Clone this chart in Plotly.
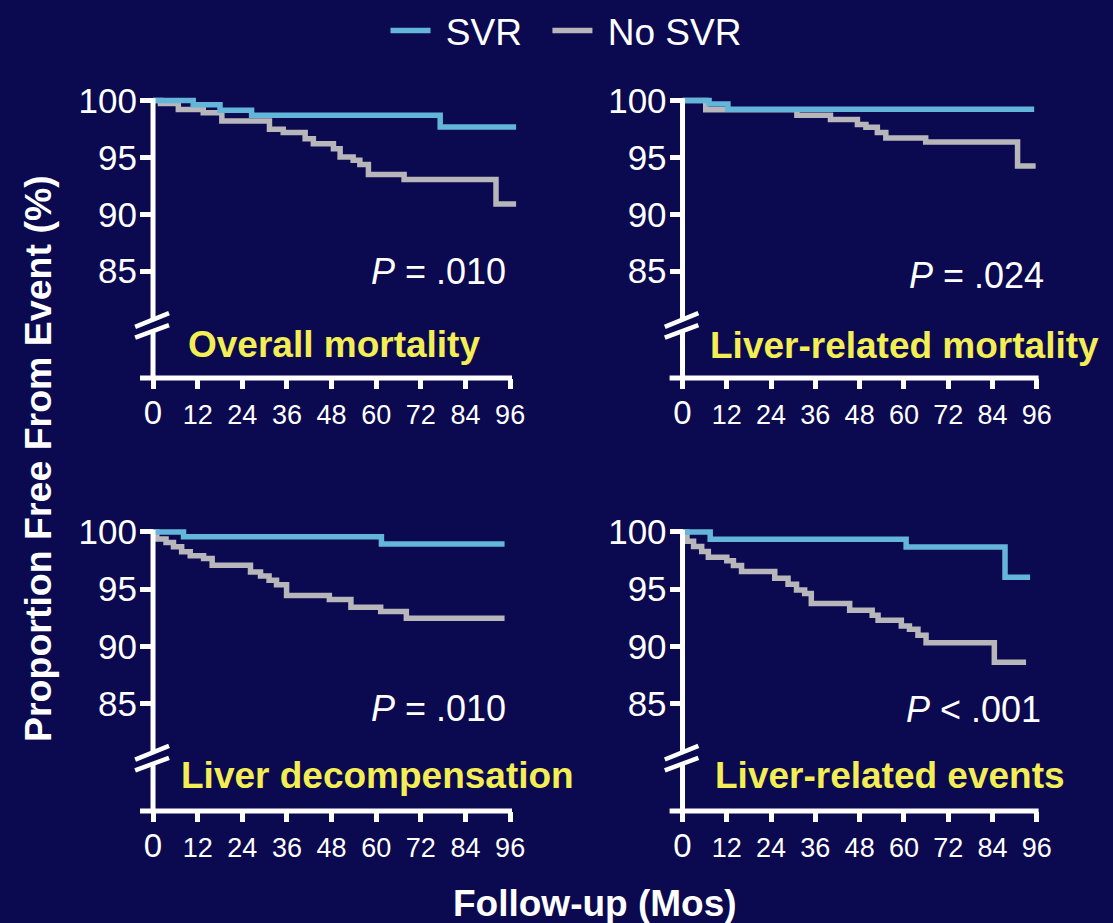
import plotly.graph_objects as go

# ---------------- data (months, % free from event) ----------------
months_ticks = [0, 12, 24, 36, 48, 60, 72, 84, 96]
tick_labels = ["0", "12", "24", "36", "48", "60", "72", "84", "96"]
y_ticks = [85, 90, 95, 100]

panel_titles = ["Overall mortality", "Liver-related mortality",
                "Liver decompensation", "Liver-related events"]
p_values = ["<i>P</i> = .010", "<i>P</i> = .024", "<i>P</i> = .010", "<i>P</i> < .001"]

# Overall mortality
om_svr_t = [0, 10.8, 18.0, 26.5, 77.2, 97.6]
om_svr_s = [100, 99.63, 99.14, 98.7, 97.68, 97.68]
om_nosvr_t = [0, 2.0, 6.8, 13.5, 18.5, 31.3, 35.0, 40.9, 43.1, 48.5, 50.3, 53.8, 55.6, 57.9, 67.5, 92.2, 97.6]
om_nosvr_s = [100, 99.75, 99.22, 98.93, 98.2, 97.47, 97.18, 96.65, 96.2, 95.77, 95.04, 94.75, 94.37, 93.5, 93.05, 90.9, 90.9]

# Liver-related mortality
lm_svr_t = [0, 7.2, 12.3, 95.3]
lm_svr_s = [100, 99.7, 99.24, 99.24]
lm_nosvr_t = [0, 6.3, 31.0, 40.1, 47.4, 49.7, 52.8, 55.1, 65.9, 90.8, 95.7]
lm_nosvr_s = [100, 99.2, 98.7, 98.33, 97.9, 97.65, 97.18, 96.7, 96.35, 94.24, 94.24]

# Liver decompensation
ld_svr_t = [0, 8.2, 61.4, 94.5]
ld_svr_s = [100, 99.59, 98.94, 98.94]
ld_nosvr_t = [0, 1.0, 3.5, 5.5, 7.7, 10.0, 13.6, 15.9, 26.2, 28.9, 31.2, 33.2, 35.9, 47.4, 53.2, 61.2, 68.1, 94.5]
ld_nosvr_s = [100, 99.38, 99.09, 98.71, 98.27, 97.92, 97.68, 97.1, 96.5, 96.15, 95.77, 95.39, 94.45, 94.1, 93.42, 93.04, 92.45, 92.45]

# Liver-related events
le_svr_t = [0, 7.5, 60.6, 87.4, 94.2]
le_svr_s = [100, 99.36, 98.68, 96.03, 96.03]
le_nosvr_t = [0, 1.2, 3.0, 5.2, 7.0, 12.0, 13.8, 16.0, 25.0, 28.6, 30.9, 33.1, 34.9, 45.3, 51.4, 53.0, 59.3, 61.5, 63.8, 66.0, 84.5, 93.1]
le_nosvr_s = [100, 99.18, 98.74, 98.3, 97.8, 97.48, 97.07, 96.54, 95.95, 95.43, 94.93, 94.63, 93.75, 93.16, 92.72, 92.28, 91.78, 91.49, 90.96, 90.31, 88.6, 88.6]

panels = [
    (om_svr_t, om_svr_s, om_nosvr_t, om_nosvr_s),
    (lm_svr_t, lm_svr_s, lm_nosvr_t, lm_nosvr_s),
    (ld_svr_t, ld_svr_s, ld_nosvr_t, ld_nosvr_s),
    (le_svr_t, le_svr_s, le_nosvr_t, le_nosvr_s),
]

# ---------------- style ----------------
W, H = 1113, 923
BG = "#0b0950"
BLUE = "#63b5da"
GRAY = "#b6b6bb"
YELLOW = "#f4ee55"
WHITE = "#ffffff"
FONT = "Liberation Sans, Arial, Helvetica, sans-serif"
NB = "\u00a0"

XR = [-3.5, 98.5]
YR = [75.6, 100.4]

# pixel placement of each panel: (left px, right px, top px, bottom px)
px_boxes = [
    (140, 140 + 102 * 3.72, 96, 378),
    (669.6, 669.6 + 102 * 3.69, 96, 378),
    (140, 140 + 102 * 3.72, 527.4, 811),
    (669.6, 669.6 + 102 * 3.69, 527.4, 811),
]
xdoms = [[l / W, r / W] for (l, r, t, b) in px_boxes]
ydoms = [[1 - b / H, 1 - t / H] for (l, r, t, b) in px_boxes]


def to_paper(p, x, y):
    xd, yd = xdoms[p], ydoms[p]
    fx = xd[0] + (x - XR[0]) / (XR[1] - XR[0]) * (xd[1] - xd[0])
    fy = yd[0] + (y - YR[0]) / (YR[1] - YR[0]) * (yd[1] - yd[0])
    return fx, fy


fig = go.Figure()
shapes = []
annotations = []

for p, (st, ss, nt, ns) in enumerate(panels):
    xa = "x" if p == 0 else f"x{p + 1}"
    ya = "y" if p == 0 else f"y{p + 1}"
    fig.add_trace(go.Scatter(x=nt, y=ns, mode="lines", line=dict(color=GRAY, width=5.5, shape="hv"),
                             name=NB + "No SVR", legendgroup="no", showlegend=(p == 0), legendrank=2,
                             xaxis=xa, yaxis=ya))
    fig.add_trace(go.Scatter(x=st, y=ss, mode="lines", line=dict(color=BLUE, width=5.5, shape="hv"),
                             name=NB + "SVR" + NB + NB, legendgroup="svr", showlegend=(p == 0), legendrank=1,
                             xaxis=xa, yaxis=ya))

    sfx = "" if p == 0 else str(p + 1)
    fig.update_layout(**{
        f"xaxis{sfx}": dict(domain=xdoms[p], range=XR, anchor=ya, showgrid=False, zeroline=False,
                            showline=False, ticks="outside", ticklen=10, tickwidth=5, tickcolor=WHITE,
                            tickmode="array", tickvals=months_ticks, ticklabelstandoff=3,
                            ticktext=["<span style='font-size:33px'>0</span>"] + tick_labels[1:],
                            tickfont=dict(size=27, color=WHITE, family=FONT)),
        f"yaxis{sfx}": dict(domain=ydoms[p], range=YR, anchor=xa, showgrid=False, zeroline=False,
                            showline=False, ticks="inside", ticklen=13, tickwidth=5, tickcolor=WHITE,
                            tickmode="array", tickvals=y_ticks, ticklabelstandoff=2,
                            tickfont=dict(size=35, color=WHITE, family=FONT)),
    })

    # x axis line
    x0, yb = to_paper(p, XR[0], YR[0])
    x1, _ = to_paper(p, 96.5, YR[0])
    shapes.append(dict(type="line", xref="paper", yref="paper", x0=x0, x1=x1, y0=yb, y1=yb,
                       line=dict(color=WHITE, width=5)))
    # y axis line at x = 0
    ax, _ = to_paper(p, 0, YR[0])
    _, yt = to_paper(p, 0, 100.2)
    shapes.append(dict(type="line", xref="paper", yref="paper", x0=ax, x1=ax, y0=yb, y1=yt,
                       line=dict(color=WHITE, width=5)))
    # axis break
    ul = to_paper(p, -4.8, 80.1)
    ur = to_paper(p, 4.3, 81.3)
    ll = to_paper(p, -4.8, 79.15)
    lr = to_paper(p, 4.3, 80.25)
    shapes.append(dict(type="path", xref="paper", yref="paper",
                       path=f"M{ul[0]},{ul[1]} L{ur[0]},{ur[1]} L{lr[0]},{lr[1]} L{ll[0]},{ll[1]} Z",
                       fillcolor=BG, line=dict(width=0)))
    for a, b in ((ul, ur), (ll, lr)):
        shapes.append(dict(type="line", xref="paper", yref="paper", x0=a[0], y0=a[1], x1=b[0], y1=b[1],
                           line=dict(color=WHITE, width=4.5)))

# annotations: panel titles and p-values (placed in paper coords from each subplot's scale)
title_pos = [(48.7, 78.55), (60.1, 78.5), (60.3, 78.7), (56.2, 78.7)]
p_pos = [(95.4, 84.96), (98.5, 84.6), (95.4, 84.55), (97.6, 84.5)]
for p in range(4):
    tx, ty = to_paper(p, *title_pos[p])
    annotations.append(dict(text=f"<b>{panel_titles[p]}</b>", x=tx, y=ty,
                            xref="paper", yref="paper", showarrow=False, xanchor="center", yanchor="middle",
                            font=dict(size=37, color=YELLOW, family=FONT)))
    px_, py_ = to_paper(p, *p_pos[p])
    annotations.append(dict(text=p_values[p], x=px_, y=py_, xref="paper", yref="paper",
                            showarrow=False, xanchor="right", yanchor="middle",
                            font=dict(size=36, color=WHITE, family=FONT)))

annotations.append(dict(text="<b>Proportion Free From Event (%)</b>", x=38 / W, y=1 - 459 / H,
                        xref="paper", yref="paper", showarrow=False, textangle=-90,
                        xanchor="center", yanchor="middle", font=dict(size=37.5, color=WHITE, family=FONT)))
annotations.append(dict(text="<b>Follow-up (Mos)</b>", x=595 / W, y=1 - 903 / H,
                        xref="paper", yref="paper", showarrow=False,
                        xanchor="center", yanchor="middle", font=dict(size=37, color=WHITE, family=FONT)))

fig.update_layout(
    width=W, height=H, margin=dict(l=0, r=0, t=0, b=0, autoexpand=False),
    paper_bgcolor=BG, plot_bgcolor=BG,
    font=dict(family=FONT, color=WHITE),
    shapes=shapes, annotations=annotations,
    legend=dict(orientation="h", x=566 / W, xanchor="center", y=1.0, yanchor="top",
                font=dict(size=37, color=WHITE, family=FONT), bgcolor="rgba(0,0,0,0)",
                traceorder="normal", itemwidth=40),
    showlegend=True,
)

fig.write_html("out.html", config={"displayModeBar": False},
               post_script="document.body.style.margin='0';document.body.style.background='#0b0950';")
